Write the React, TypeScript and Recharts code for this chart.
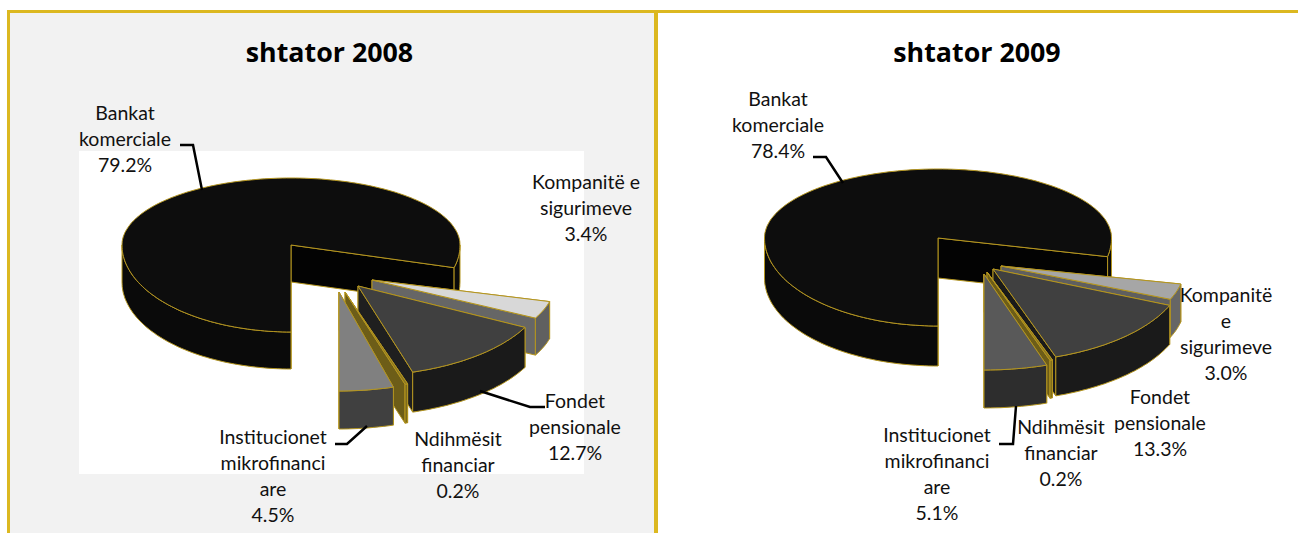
import React from "react";
import { PieChart, Pie } from "recharts";

const categories = ["Bankat komerciale", "Kompanitë e sigurimeve", "Fondet pensionale", "Ndihmësit financiar", "Institucionet mikrofinanciare"];
const values2008 = [79.2, 3.4, 12.7, 0.2, 4.5];
const values2009 = [78.4, 3.0, 13.3, 0.2, 5.1];
const labelLines2008 = [["Bankat", "komerciale"], ["Kompanitë e", "sigurimeve"], ["Fondet", "pensionale"], ["Ndihmësit", "financiar"], ["Institucionet", "mikrofinanci", "are"]];
const labelLines2009 = [["Bankat", "komerciale"], ["Kompanitë", "e", "sigurimeve"], ["Fondet", "pensionale"], ["Ndihmësit", "financiar"], ["Institucionet", "mikrofinanci", "are"]];

const toRows = (vals: number[], lines: string[][]) =>
  categories.map((name, i) => ({ name, value: vals[i], lines: lines[i] }));

const GOLD = "#b4951f";
const FONT = "Lato, 'Open Sans', sans-serif";

type Geo = { dx: number; dy: number; rx: number; up: number; down: number; depth: number; top: string; side: string; wall: string };
type Lab = { x: number; y: number; leader?: number[][] };

const geo2008: Geo[] = [
  { dx: 0, dy: 0, rx: 169, up: 67, down: 87, depth: 37, top: "#0d0d0d", side: "#0a0a0a", wall: "#030303" },
  { dx: 81, dy: 35, rx: 184, up: 80, down: 83, depth: 37, top: "#d8d8d8", side: "#606060", wall: "#666666" },
  { dx: 67, dy: 41, rx: 188, up: 85, down: 90, depth: 40, top: "#404040", side: "#1a1a1a", wall: "#1f1f1f" },
  { dx: 54, dy: 47, rx: 215, up: 90, down: 96, depth: 39, top: "#8a7620", side: "#7c6a1c", wall: "#6d5d18" },
  { dx: 48, dy: 47, rx: 195, up: 90, down: 99, depth: 38, top: "#808080", side: "#404040", wall: "#404040" },
];
const geo2009: Geo[] = [
  { dx: 0, dy: 0, rx: 173.5, up: 69, down: 88, depth: 40, top: "#0d0d0d", side: "#0a0a0a", wall: "#030303" },
  { dx: 63, dy: 28, rx: 184, up: 80, down: 85, depth: 38, top: "#a6a6a6", side: "#666666", wall: "#5f5f5f" },
  { dx: 55, dy: 31, rx: 192, up: 85, down: 93, depth: 39, top: "#404040", side: "#1a1a1a", wall: "#1a1a1a" },
  { dx: 49, dy: 34, rx: 200, up: 88, down: 93, depth: 38, top: "#8a7620", side: "#7c6a1c", wall: "#6d5d18" },
  { dx: 46, dy: 36, rx: 199, up: 88, down: 96, depth: 38, top: "#595959", side: "#2d2d2d", wall: "#2d2d2d" },
];

const lab2008: Lab[] = [
  { x: 125, y: 120, leader: [[180, 145], [193, 145], [202, 190]] },
  { x: 586, y: 189 },
  { x: 575, y: 408, leader: [[480, 391], [530, 407], [545, 407]] },
  { x: 458, y: 446 },
  { x: 273, y: 444, leader: [[367, 426], [347, 444], [335, 444]] },
];
const lab2009: Lab[] = [
  { x: 778 - 655, y: 106, leader: [[813 - 655, 157], [826 - 655, 157], [843 - 655, 183]] },
  { x: 1226 - 655, y: 302 },
  { x: 1160 - 655, y: 404 },
  { x: 1061 - 655, y: 434 },
  { x: 937 - 655, y: 442, leader: [[1016 - 655, 406], [1013 - 655, 444], [999 - 655, 444]] },
];

const pt = (x: number, y: number, g: Geo, a: number, dz = 0): [number, number] => {
  const r = (a * Math.PI) / 180;
  const s = Math.sin(r);
  return [x + g.dx + g.rx * Math.cos(r), y + g.dy - (s > 0 ? g.up : g.down) * s + dz];
};
const toD = (p: [number, number][]) => "M" + p.map((q) => q[0].toFixed(1) + "," + q[1].toFixed(1)).join("L") + "Z";

const makeShape = (geos: Geo[]) => (props: any) => {
  const { cx, cy, startAngle, endAngle } = props;
  const idx = categories.indexOf(props.name ?? props.payload?.name);
  const g = geos[idx];
  const a0 = Math.max(startAngle, endAngle);
  const a1 = Math.min(startAngle, endAngle);
  const arc: number[] = [];
  for (let a = a0; a > a1; a -= 1.5) arc.push(a);
  arc.push(a1);
  for (const b of [180, 0]) if (b < a0 && b > a1) arc.push(b);
  arc.sort((p, q) => q - p);
  // runs of the rim that face the viewer (the lower half of the ellipse)
  const runs: number[][] = [];
  let cur: number[] = [];
  for (const a of arc) {
    if (Math.sin((a * Math.PI) / 180) <= 1e-9) cur.push(a);
    else if (cur.length) {
      runs.push(cur);
      cur = [];
    }
  }
  if (cur.length) runs.push(cur);
  const top = arc.map((a) => pt(cx, cy, g, a));
  const vx = cx + g.dx;
  const vy = cy + g.dy;
  const common = { stroke: GOLD, strokeWidth: 1, strokeLinejoin: "round" as const };
  const wall = (e: [number, number]) =>
    toD([[vx, vy], e, [e[0], e[1] + g.depth], [vx, vy + g.depth]]);
  return (
    <g>
      <path d={wall(top[0])} fill={g.wall} {...common} />
      <path d={wall(top[top.length - 1])} fill={g.wall} {...common} />
      {runs.map((run, i) => (
        <path
          key={i}
          d={toD([
            ...run.map((a) => pt(cx, cy, g, a)),
            ...run.map((a) => pt(cx, cy, g, a, g.depth)).reverse(),
          ])}
          fill={g.side}
          {...common}
        />
      ))}
      <path d={toD([[vx, vy], ...top])} fill={g.top} {...common} />
    </g>
  );
};

const makeLabel = (labs: Lab[]) => (props: any) => {
  const idx = categories.indexOf(props.name ?? props.payload?.name);
  const l = labs[idx];
  const rows: string[] = [...props.payload.lines, props.payload.value.toFixed(1) + "%"];
  return (
    <g>
      {l.leader && (
        <polyline points={l.leader.map((p) => p.join(",")).join(" ")} fill="none" stroke="#000" strokeWidth={2.5} />
      )}
      {rows.map((t, i) => (
        <text key={i} x={l.x} y={l.y + i * 26} textAnchor="middle" fontFamily={FONT} fontSize={19.5} fill="#111">
          {t}
        </text>
      ))}
    </g>
  );
};

function Panel({ rows, geos, labs, cx, cy, width, left }: any) {
  return (
    <div style={{ position: "absolute", left, top: 0 }}>
      <PieChart width={width} height={533} margin={{ top: 0, right: 0, bottom: 0, left: 0 }}>
        <Pie
          data={rows}
          dataKey="value"
          nameKey="name"
          cx={cx}
          cy={cy}
          outerRadius={169}
          startAngle={270}
          endAngle={-90}
          stroke="none"
          isAnimationActive={false}
          labelLine={false}
          label={makeLabel(labs)}
          shape={makeShape(geos)}
        />
      </PieChart>
    </div>
  );
}

const titleStyle = (left: number, width: number): React.CSSProperties => ({
  position: "absolute",
  left,
  width,
  top: 35,
  textAlign: "center",
  fontFamily: "'Open Sans', sans-serif",
  fontWeight: 700,
  fontSize: 26.8,
  lineHeight: "34px",
  color: "#000",
  zIndex: 2,
});

export default function App() {
  return (
    <div style={{ position: "fixed", left: 0, top: 0, width: 1298, height: 533, overflow: "hidden", background: "#fff" }}>
      <div style={{ position: "absolute", left: 9, top: 13, width: 645, height: 520, background: "#f2f2f2" }} />
      <div style={{ position: "absolute", left: 79, top: 151, width: 505, height: 323, background: "#fff" }} />
      <div style={{ position: "absolute", left: 7, top: 10, width: 1291, height: 3, background: "#dcb820" }} />
      <div style={{ position: "absolute", left: 7, top: 10, width: 2.5, height: 523, background: "#dcb820" }} />
      <div style={{ position: "absolute", left: 654, top: 10, width: 3.5, height: 523, background: "#dcb820" }} />
      <div style={titleStyle(9, 641)}>shtator 2008</div>
      <div style={titleStyle(657, 640)}>shtator 2009</div>
      <Panel rows={toRows(values2008, labelLines2008)} geos={geo2008} labs={lab2008} cx={291} cy={245} width={654} left={0} />
      <Panel rows={toRows(values2009, labelLines2009)} geos={geo2009} labs={lab2009} cx={938 - 655} cy={238} width={643} left={655} />
    </div>
  );
}
